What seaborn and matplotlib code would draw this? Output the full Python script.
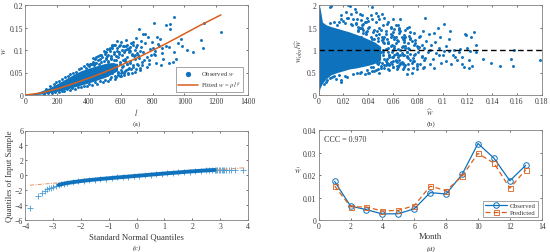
import matplotlib
matplotlib.use("Agg")
import matplotlib.pyplot as plt
import pandas as pd
import seaborn as sns

BLUE = "#0F72BD"
ORANGE = "#D95F1E"
GRAY = "#808080"
TXT = "#3a3a3a"

# (a) dense core of the cloud
a_core_l = [0, 50, 100, 150, 200, 250, 300, 350, 400, 450, 500, 540, 580]
a_core_lo = [0, 0.0005, 0.002, 0.005, 0.008, 0.012, 0.017, 0.022, 0.027, 0.033, 0.039, 0.046, 0.054]
a_core_hi = [0, 0.003, 0.009, 0.016, 0.025, 0.035, 0.045, 0.054, 0.060, 0.065, 0.070, 0.072, 0.070]
# (a) individually visible points
a_l = [1228, 1119, 1121, 1102, 1054, 1019, 983, 979, 933, 912, 908, 887, 807, 929, 902, 950, 937, 904, 960, 885,
       860, 845, 830, 810, 795, 780, 770, 755, 740, 730, 712, 700, 690, 675, 660, 650, 640, 625, 610, 600,
       590, 575, 560, 545, 530, 515, 500, 485, 470, 455, 440, 425, 410, 395, 380,
       868, 850, 822, 815, 790, 775, 762, 748, 735, 722, 705, 695, 680, 668, 655, 645, 632, 620, 605, 595,
       720, 708, 690, 672, 658, 640, 628, 612, 598, 582, 568, 552, 538, 522, 505, 492, 476, 462, 446, 430, 415, 400,
       860, 838, 800, 742, 698, 665, 635, 618, 590, 578, 560, 548, 530, 515, 500, 470, 445, 425,
       120, 140, 165, 185, 210, 228, 245, 262, 280, 296, 315, 332, 348, 366, 385, 402, 418, 437, 452, 468, 486, 503, 522, 541, 563, 584, 602, 621, 644, 667,
       130, 155, 178, 195, 213, 232, 248, 266, 283, 302, 318, 337, 352, 371, 389, 407, 424, 441, 458, 474, 493, 509, 526, 543, 561, 579, 596, 612, 633, 652,
       507, 514, 521, 533, 539, 547, 556, 566, 573, 581, 588, 593, 599, 606, 614, 623, 629, 637, 642, 648, 654, 661, 669, 677, 683, 688, 694, 701, 707, 715,
       719, 726, 733, 752, 768, 785, 818, 835, 610, 625, 640, 600, 660, 675, 690, 585, 570, 555, 537, 518]
a_w = [0.139, 0.104, 0.160, 0.123, 0.095, 0.101, 0.108, 0.124, 0.174, 0.158, 0.147, 0.156, 0.161, 0.073, 0.071, 0.080, 0.096, 0.106, 0.115, 0.110,
       0.094, 0.125, 0.130, 0.092, 0.118, 0.078, 0.128, 0.136, 0.135, 0.120, 0.147, 0.112, 0.100, 0.118, 0.106, 0.095, 0.112, 0.100, 0.090, 0.118,
       0.108, 0.098, 0.112, 0.104, 0.098, 0.086, 0.092, 0.085, 0.080, 0.078, 0.072, 0.068, 0.070, 0.066, 0.060,
       0.080, 0.066, 0.072, 0.088, 0.088, 0.070, 0.062, 0.078, 0.066, 0.056, 0.070, 0.058, 0.066, 0.050, 0.060, 0.048, 0.056, 0.045, 0.052, 0.042,
       0.098, 0.088, 0.080, 0.088, 0.076, 0.084, 0.075, 0.078, 0.070, 0.085, 0.078, 0.070, 0.080, 0.074, 0.082, 0.075, 0.074, 0.070, 0.072, 0.066, 0.070, 0.064,
       0.105, 0.108, 0.105, 0.096, 0.126, 0.115, 0.122, 0.110, 0.092, 0.120, 0.095, 0.110, 0.105, 0.102, 0.095, 0.090, 0.085, 0.082,
       0.002, 0.004, 0.005, 0.007, 0.007, 0.010, 0.010, 0.013, 0.012, 0.015, 0.014, 0.018, 0.017, 0.021, 0.020, 0.024, 0.022, 0.028, 0.024, 0.031, 0.029, 0.034, 0.032, 0.040, 0.036, 0.044, 0.043, 0.050, 0.046, 0.058,
       0.014, 0.019, 0.024, 0.028, 0.031, 0.035, 0.040, 0.042, 0.047, 0.050, 0.052, 0.058, 0.061, 0.064, 0.068, 0.070, 0.074, 0.080, 0.086, 0.090, 0.098, 0.095, 0.102, 0.112, 0.111, 0.105, 0.112, 0.108, 0.110, 0.104,
       0.079, 0.044, 0.088, 0.036, 0.083, 0.050, 0.092, 0.042, 0.086, 0.051, 0.096, 0.074, 0.048, 0.101, 0.064, 0.095, 0.054, 0.103, 0.068, 0.058, 0.099, 0.072, 0.091, 0.062, 0.086, 0.052, 0.107, 0.094, 0.066, 0.082,
       0.060, 0.106, 0.074, 0.116, 0.084, 0.102, 0.098, 0.114, 0.062, 0.080, 0.070, 0.056, 0.097, 0.112, 0.090, 0.050, 0.040, 0.078, 0.086, 0.076]
fit_l = [0, 100, 200, 300, 400, 500, 600, 700, 800, 900, 1000, 1100, 1230]
fit_w = [0, 0.0045, 0.0135, 0.025, 0.0375, 0.051, 0.066, 0.082, 0.099, 0.117, 0.136, 0.155, 0.178]

# (b) dense core of the cloud
b_core_x = [0, 0.001, 0.003, 0.006, 0.01, 0.015, 0.02, 0.025, 0.03, 0.035, 0.04, 0.045, 0.05]
b_core_lo = [0.0, 0.15, 0.26, 0.36, 0.45, 0.50, 0.54, 0.58, 0.60, 0.63, 0.66, 0.70, 0.78]
b_core_hi = [2.0, 1.95, 1.62, 1.56, 1.52, 1.48, 1.44, 1.40, 1.35, 1.30, 1.24, 1.18, 1.08]
b_x = [0.179, 0.158, 0.157, 0.155, 0.146, 0.139, 0.133, 0.127, 0.127, 0.125, 0.124, 0.123, 0.122, 0.121, 0.120, 0.119, 0.118, 0.117, 0.116, 0.116,
       0.114, 0.112, 0.110, 0.109, 0.107, 0.106, 0.105, 0.105, 0.103, 0.101, 0.100, 0.099, 0.098, 0.097, 0.096, 0.095, 0.094, 0.093, 0.092, 0.091,
       0.090, 0.089, 0.088, 0.087, 0.086, 0.085, 0.085, 0.084, 0.083, 0.082, 0.081, 0.080, 0.079, 0.078, 0.077, 0.076, 0.075, 0.074, 0.073, 0.072,
       0.071, 0.070, 0.069, 0.068, 0.067, 0.066, 0.065, 0.064, 0.063, 0.062, 0.061, 0.060, 0.059, 0.058, 0.057, 0.056, 0.055, 0.054, 0.053, 0.052,
       0.082, 0.079, 0.077, 0.074, 0.072, 0.071, 0.069, 0.068, 0.066, 0.065, 0.064, 0.063, 0.061, 0.060, 0.059, 0.058, 0.056, 0.055, 0.053, 0.052,
       0.051, 0.050, 0.049, 0.048, 0.047, 0.046, 0.045, 0.044, 0.043, 0.042, 0.041, 0.040, 0.039, 0.038, 0.037, 0.036, 0.035, 0.034, 0.033, 0.032,
       0.051, 0.049, 0.048, 0.046, 0.045, 0.044, 0.043, 0.042, 0.041, 0.040, 0.039, 0.038, 0.037, 0.036, 0.035, 0.034, 0.033, 0.032, 0.031, 0.030,
       0.043, 0.030, 0.033, 0.029, 0.026, 0.025, 0.024, 0.023, 0.022, 0.020, 0.018, 0.016, 0.010, 0.009, 0.009, 0.026, 0.028, 0.032, 0.035, 0.038,
       0.004, 0.006, 0.007, 0.009, 0.011, 0.012, 0.014, 0.016, 0.018, 0.018, 0.021, 0.023, 0.028, 0.031, 0.034, 0.037, 0.040, 0.043, 0.046, 0.049,
       0.012, 0.015, 0.018, 0.021, 0.024, 0.027, 0.030, 0.033, 0.036, 0.039, 0.042, 0.045, 0.048, 0.056, 0.060, 0.062, 0.066, 0.070, 0.076, 0.080,
       0.047, 0.050, 0.053, 0.057, 0.061, 0.064, 0.068, 0.071, 0.074, 0.078, 0.083, 0.086, 0.090, 0.093, 0.097, 0.101, 0.103, 0.108, 0.113, 0.121,
       0.052, 0.054, 0.055, 0.056, 0.057, 0.058, 0.059, 0.060, 0.061, 0.062, 0.063, 0.064, 0.065, 0.066, 0.067, 0.068, 0.069, 0.070, 0.071, 0.072,
       0.052, 0.053, 0.054, 0.056, 0.057, 0.059, 0.060, 0.061, 0.063, 0.064, 0.065, 0.067, 0.068, 0.069, 0.070, 0.072, 0.073, 0.074, 0.076, 0.077,
       0.052, 0.054, 0.055, 0.057, 0.058, 0.060, 0.062, 0.063, 0.065, 0.066, 0.068, 0.070, 0.071, 0.073, 0.075, 0.077, 0.079, 0.081, 0.083, 0.085,
       0.046, 0.047, 0.048, 0.049, 0.050, 0.051, 0.052, 0.053, 0.055, 0.056, 0.058, 0.059, 0.061, 0.062, 0.064, 0.066, 0.069, 0.071, 0.074, 0.078,
       0.048, 0.049, 0.050, 0.051, 0.053, 0.054, 0.055, 0.056, 0.057, 0.058, 0.060, 0.062, 0.063, 0.065, 0.067, 0.069, 0.072, 0.075, 0.079, 0.084]
b_y = [0.78, 1.00, 0.65, 0.80, 0.65, 0.72, 0.81, 1.11, 0.95, 1.40, 0.65, 1.28, 0.98, 0.60, 1.05, 1.33, 1.35, 0.62, 0.85, 0.68,
       1.02, 0.78, 0.85, 1.00, 0.70, 1.43, 1.24, 0.97, 1.08, 1.58, 0.88, 0.72, 1.30, 1.05, 1.48, 0.93, 1.18, 1.38, 0.80, 1.12,
       0.68, 1.35, 0.95, 1.20, 1.72, 0.62, 1.05, 1.42, 0.85, 0.70, 1.28, 0.95, 0.58, 1.15, 1.38, 0.82, 0.50, 1.25, 1.52, 0.68,
       0.47, 1.45, 0.90, 0.58, 1.30, 1.70, 0.78, 1.20, 0.65, 1.55, 0.88, 1.40, 0.70, 1.10, 0.55, 1.62, 0.80, 1.35, 0.60, 1.25,
       1.32, 1.10, 0.75, 1.40, 1.05, 0.85, 1.18, 0.68, 1.00, 1.50, 0.62, 0.92, 1.25, 1.68, 0.85, 1.48, 1.05, 0.72, 1.72, 0.95,
       1.80, 0.60, 1.50, 1.75, 0.72, 1.62, 0.53, 1.40, 1.68, 0.62, 1.52, 1.65, 0.55, 1.62, 0.70, 1.58, 1.48, 1.66, 0.50, 1.52,
       1.30, 1.68, 0.58, 1.82, 1.45, 0.62, 1.25, 1.78, 0.50, 1.50, 1.72, 1.35, 1.63, 1.45, 1.55, 1.30, 1.80, 1.45, 1.68, 1.60,
       1.95, 1.85, 1.50, 1.92, 1.80, 1.98, 2.00, 1.72, 1.85, 1.65, 1.78, 1.62, 1.97, 1.95, 1.60, 1.58, 1.70, 1.42, 1.78, 1.40,
       0.25, 0.28, 0.33, 0.37, 0.40, 0.42, 0.36, 0.44, 0.30, 0.33, 0.42, 0.40, 0.47, 0.50, 0.52, 0.46, 0.50, 0.53, 0.55, 0.48,
       1.62, 1.55, 1.70, 1.60, 1.72, 1.55, 1.58, 1.50, 1.38, 1.42, 1.30, 1.25, 1.20, 1.15, 1.00, 0.92, 0.88, 1.10, 0.60, 1.05,
       1.10, 0.95, 1.15, 0.90, 1.05, 0.85, 1.25, 0.95, 0.78, 0.92, 1.12, 0.82, 1.00, 0.60, 0.88, 0.98, 0.75, 0.90, 0.95, 0.78,
       0.90, 1.02, 0.72, 1.15, 0.84, 1.30, 0.95, 0.62, 1.08, 0.78, 1.22, 0.90, 1.38, 0.72, 1.06, 0.88, 1.26, 0.66, 0.96, 1.16,
       1.18, 0.80, 1.42, 0.96, 0.68, 1.12, 0.84, 1.30, 0.74, 1.02, 1.44, 0.94, 0.72, 1.22, 1.04, 0.82, 1.32, 0.92, 0.76, 1.12,
       1.00, 0.66, 1.24, 0.88, 1.36, 0.76, 1.16, 0.94, 1.46, 0.70, 1.08, 1.28, 0.86, 1.02, 1.20, 0.90, 0.68, 1.06, 0.86, 0.78,
       1.34, 1.42, 1.26, 1.36, 1.44, 1.22, 1.56, 1.30, 1.58, 1.18, 1.52, 1.34, 1.46, 1.28, 1.56, 1.42, 1.34, 1.48, 1.26, 1.22,
       0.68, 0.74, 0.64, 0.72, 0.66, 0.76, 0.70, 0.58, 0.66, 0.74, 0.62, 0.76, 0.58, 0.66, 0.74, 0.62, 0.58, 0.72, 0.64, 0.60]

# (c) QQ plot
qq_x = [-3.83, -3.55, -3.40, -3.30, -3.22, -3.15, -3.08, -3.00, -2.90, -2.80, -2.70, -2.60, -2.50, -2.30, -2.10, -1.90, -1.70, -1.50,
        -1.30, -1.10, -0.90, -0.70, -0.50, -0.30, -0.10, 0.10, 0.30, 0.50, 0.70, 0.90, 1.10, 1.30, 1.50, 1.70, 1.90, 2.10, 2.30, 2.50,
        2.60, 2.70, 2.80, 2.85, 2.90, 2.95, 3.00, 3.05, 3.10, 3.15, 3.22, 3.30, 3.40, 3.55, 3.83]
qq_y = [-4.35, -2.80, -2.40, -2.05, -1.90, -1.75, -1.65, -1.55, -1.40, -1.30, -1.20, -1.12, -1.05, -0.93, -0.83, -0.73, -0.65, -0.58,
        -0.50, -0.44, -0.37, -0.30, -0.24, -0.18, -0.11, -0.05, 0.01, 0.08, 0.14, 0.20, 0.27, 0.32, 0.38, 0.44, 0.50, 0.55, 0.60, 0.65,
        0.67, 0.69, 0.71, 0.71, 0.72, 0.72, 0.72, 0.72, 0.73, 0.72, 0.73, 0.72, 0.72, 0.73, 0.72]
ref_x = [-3.83, 3.83]
ref_y = [-1.33, 1.00]

# (d) monthly series
months = [1, 2, 3, 4, 5, 6, 7, 8, 9, 10, 11, 12, 13]
observed = [0.0172, 0.0062, 0.0046, 0.0027, 0.0028, 0.0050, 0.0122, 0.0116, 0.0203, 0.0341, 0.0276, 0.0175, 0.0244]
predicted = [0.0152, 0.0059, 0.0058, 0.0040, 0.0043, 0.0064, 0.0151, 0.0131, 0.0195, 0.0297, 0.0254, 0.0142, 0.0224]

sns.set_theme(style="white")
plt.rcParams.update({
    "font.family": ["Liberation Serif", "DejaVu Serif"],
    "mathtext.fontset": "stix",
    "font.size": 5.6,
    "axes.linewidth": 0.6,
    "axes.edgecolor": GRAY,
    "xtick.color": TXT, "ytick.color": TXT,
    "axes.labelcolor": TXT, "text.color": TXT,
})

W, H = 550, 253
fig = plt.figure(figsize=(W / 100, H / 100), dpi=100)


def make_ax(x0, x1, y0, y1):
    ax = fig.add_axes([x0 / W, 1 - y1 / H, (x1 - x0) / W, (y1 - y0) / H])
    ax.tick_params(direction="in", length=1.5, width=0.5, labelsize=5.6, pad=1.5,
                   top=True, right=True, bottom=True, left=True)
    for s in ax.spines.values():
        s.set_visible(True)
    return ax


# ---------- (a)
ax = make_ax(25.3, 248, 6, 96)
ax.fill_between(a_core_l, a_core_lo, a_core_hi, color=BLUE, lw=0)
sns.scatterplot(data=pd.DataFrame({"l": a_l, "w": a_w}), x="l", y="w", ax=ax, color=BLUE, s=4.5, linewidth=0, label="Observed $w$")
sns.lineplot(data=pd.DataFrame({"l": fit_l, "w": fit_w}), x="l", y="w", ax=ax, color=ORANGE, lw=1.1, label=r"Fitted $w$ = $\rho\, l^{\beta}$")
ax.set(xlim=(0, 1400), ylim=(0, 0.2))
ax.set_xticks(range(0, 1401, 200))
ax.set_yticks([0, 0.05, 0.1, 0.15, 0.2])
ax.set_yticklabels(["0", "0.05", "0.1", "0.15", "0.2"])
ax.set_xlabel("$l$", fontsize=6, labelpad=1)
ax.set_ylabel("$w$", fontsize=6, labelpad=1)
leg = ax.legend(loc="lower right", bbox_to_anchor=(0.977, 0.035), borderaxespad=0, fontsize=4.8, fancybox=False,
                edgecolor=GRAY, framealpha=1, handlelength=3.0, labelspacing=0.25, borderpad=0.3,
                handletextpad=0.5, markerscale=1.8)
leg.get_frame().set_linewidth(0.5)

# ---------- (b)
ax = make_ax(318.7, 541.7, 6, 96)
ax.fill_between(b_core_x, b_core_lo, b_core_hi, color=BLUE, lw=0)
sns.scatterplot(data=pd.DataFrame({"x": b_x, "y": b_y}), x="x", y="y", ax=ax, color=BLUE, s=4.5, linewidth=0)
ax.axhline(1, color="black", lw=1.0, ls=(0, (4, 2.5)))
ax.set(xlim=(0, 0.18), ylim=(0, 2))
ax.set_xticks([0, 0.02, 0.04, 0.06, 0.08, 0.1, 0.12, 0.14, 0.16, 0.18])
ax.set_xticklabels(["0", "0.02", "0.04", "0.06", "0.08", "0.1", "0.12", "0.14", "0.16", "0.18"])
ax.set_yticks([0, 0.5, 1, 1.5, 2])
ax.set_yticklabels(["0", "0.5", "1", "1.5", "2"])
ax.set_xlabel(r"$\widehat{w}$", fontsize=6, labelpad=1)
ax.set_ylabel(r"$w_{obs}/\widehat{w}$", fontsize=6, labelpad=1)

# ---------- (c)
ax = make_ax(25.3, 248, 131.5, 221)
sns.lineplot(x=ref_x, y=ref_y, ax=ax, color="#E8905A", lw=0.7, ls=(0, (4, 1.5, 1, 1.5)))
sns.lineplot(x=qq_x[9:41], y=qq_y[9:41], ax=ax, color=BLUE, lw=2.8, solid_capstyle="round")
sns.scatterplot(x=qq_x, y=qq_y, ax=ax, color="#4A9BD6", marker="+", s=14, linewidth=0.6)
ax.set(xlim=(-4, 4), ylim=(-6, 6))
ax.set_xticks(range(-4, 5))
ax.set_yticks(range(-6, 7, 2))
labs = {i: str(i).replace("-", "\u2212") for i in range(-6, 7)}
ax.set_xticklabels([labs[i] for i in range(-4, 5)])
ax.set_yticklabels([labs[i] for i in range(-6, 7, 2)])
ax.set_xlabel("Standard Normal Quantiles", fontsize=6.2, labelpad=1.5)
ax.set_ylabel("Quantiles of Input Sample", fontsize=6.2, labelpad=1)

# ---------- (d)
ax = make_ax(318.7, 541.7, 131.3, 221)
sns.lineplot(x=months, y=observed, ax=ax, color=BLUE, lw=0.9, marker="o", ms=4, mfc="none", mec=BLUE, mew=0.7, label="Observed")
sns.lineplot(x=months, y=predicted, ax=ax, color=ORANGE, lw=0.9, ls=(0, (4, 2.5)), marker="s", ms=3.6, mfc="none", mec=ORANGE, mew=0.6, label="Predicted")
ax.set(xlim=(0, 14), ylim=(0, 0.04))
ax.set_xticks(range(0, 15, 2))
ax.set_yticks([0, 0.01, 0.02, 0.03, 0.04])
ax.set_yticklabels(["0", "0.01", "0.02", "0.03", "0.04"])
ax.set_xlabel("Month", fontsize=6.2, labelpad=1.5)
ax.set_ylabel(r"$\bar{w}$", fontsize=6, rotation=0)
ax.yaxis.set_label_coords(-0.095, 0.5)
ax.text(0.025, 0.905, "CCC = 0.970", transform=ax.transAxes, fontsize=5.8, va="center")
leg = ax.legend(loc="lower right", bbox_to_anchor=(0.983, 0.03), borderaxespad=0, fontsize=4.9, fancybox=False,
                edgecolor=GRAY, framealpha=1, handlelength=3.2, labelspacing=0.15, borderpad=0.3, handletextpad=0.4)
leg.get_frame().set_linewidth(0.5)

# captions
for cx, cy, t, st in [(137, 124, "(a)", "normal"), (431, 124, "(b)", "normal"), (137, 248, "(c)", "italic"), (431, 249, "(d)", "italic")]:
    fig.text(cx / W, 1 - cy / H, t, ha="center", va="center", fontsize=5.4, style=st)

fig.savefig("out.png", dpi=100)
